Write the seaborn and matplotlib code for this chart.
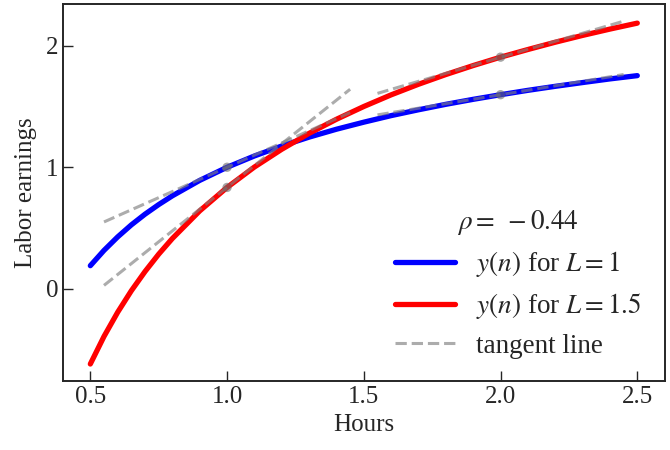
import matplotlib
matplotlib.use("Agg")
import matplotlib.pyplot as plt
import seaborn as sns

# hours grid and earnings
hours = [0.5, 0.55, 0.6, 0.65, 0.7, 0.75, 0.8, 0.9, 1.0, 1.1, 1.2, 1.3, 1.4,
         1.5, 1.6, 1.7, 1.8, 1.9, 2.0, 2.1, 2.2, 2.3, 2.4, 2.5]
earn_L1 = [0.190, 0.316, 0.427, 0.526, 0.614, 0.693, 0.765, 0.892, 1.000,
           1.093, 1.175, 1.248, 1.313, 1.371, 1.425, 1.473, 1.518, 1.559,
           1.597, 1.633, 1.666, 1.697, 1.727, 1.754]
earn_L15 = [-0.619, -0.392, -0.193, -0.016, 0.142, 0.285, 0.414, 0.641, 0.834,
            1.002, 1.148, 1.279, 1.395, 1.500, 1.596, 1.683, 1.763, 1.837,
            1.906, 1.969, 2.029, 2.085, 2.137, 2.186]

# tangent points and tangent segments
tan_x = [1.0, 2.0, 1.0, 2.0]
tan_y = [1.000, 1.597, 0.834, 1.906]
seg_x = [[0.55, 1.45], [1.55, 2.45], [0.55, 1.45], [1.55, 2.45]]
seg_y = [[0.550, 1.450], [1.431, 1.763], [0.028, 1.642], [1.608, 2.202]]

rho_label = r"$\rho = \;-0.44$"

sns.set_style("ticks")
plt.rcParams["font.family"] = ["Liberation Serif", "DejaVu Serif"]
plt.rcParams["mathtext.fontset"] = "stix"
plt.rcParams["xtick.direction"] = "in"
plt.rcParams["ytick.direction"] = "in"

fig, ax = plt.subplots(figsize=(6.7, 4.5), dpi=100)
fig.subplots_adjust(left=0.094, right=0.992, top=0.991, bottom=0.153)

sns.lineplot(x=hours, y=earn_L1, color="blue", lw=3.8,
             label=r"$y(n)$ for $L = 1$", ax=ax)
sns.lineplot(x=hours, y=earn_L15, color="red", lw=3.8,
             label=r"$y(n)$ for $L = 1.5$", ax=ax)

for i, (sx, sy) in enumerate(zip(seg_x, seg_y)):
    ax.plot(sx, sy, ls="--", color="gray", alpha=0.65, lw=2.2,
            label="tangent line" if i == 0 else None)
sns.scatterplot(x=tan_x, y=tan_y, color="dimgray", alpha=0.6, s=45,
                edgecolor="none", ax=ax, zorder=4)

ax.set_yticks([0, 1, 2])
ax.set_xticks([0.5, 1.0, 1.5, 2.0, 2.5])
ax.tick_params(labelsize=18, length=7, width=1)
for sp in ax.spines.values():
    sp.set_linewidth(1.4)
    sp.set_visible(True)

ax.set_xlabel("Hours", fontsize=18)
ax.set_ylabel("Labor earnings", fontsize=18, labelpad=6)

leg = ax.legend(title=rho_label, frameon=False, fontsize=19.5,
                title_fontsize=19.5, loc="lower right",
                bbox_to_anchor=(1.002, -0.005), handlelength=2.2,
                handletextpad=0.8, labelspacing=0.45)

plt.savefig("out.png", dpi=100)
